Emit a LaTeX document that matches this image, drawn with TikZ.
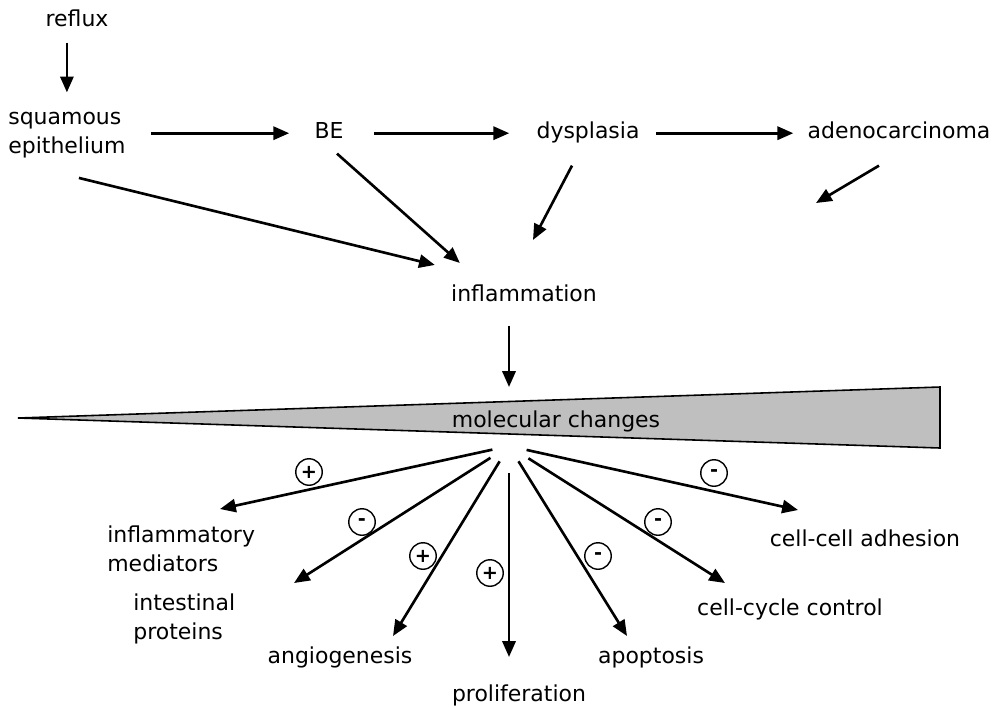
\documentclass[tikz,border=0pt]{standalone}
\usepackage{fontspec}
\setmainfont{DejaVu Sans}
\usetikzlibrary{arrows.meta, calc}

\begin{document}
\begin{tikzpicture}[x=0.02cm, y=-0.02cm, >={Triangle[length=9pt, width=7.5pt]},
        every node/.style={inner sep=0pt, font=\fontsize{12.5}{16.5}\selectfont},
        lbl/.style={text height=9.5pt, text depth=3pt, anchor=base},
        multi/.style={align=left, anchor=base west},
        arr/.style={->, line width=1.5pt},
        sign/.style={circle, draw, line width=0.8pt, minimum size=0.53cm, font=\fontsize{11}{11}\selectfont\bfseries}]

        \useasboundingbox (0,0) rectangle (999,707);

        % upper part
        \node[lbl] (reflux) at (77,26) {reflux};
        \node[multi] (squamous) at (8,153) {squamous\\epithelium};
        \node[lbl] (be) at (329,138) {BE};
        \node[lbl] (dysplasia) at (588,138) {dysplasia};
        \node[lbl] (adeno) at (899,138) {adenocarcinoma};
        \node[lbl] (infl) at (524,301) {inflammation};
        \coordinate (adenoend) at (816,203);

        \draw[arr, shorten <=0.22cm, shorten >=0.38cm] (reflux.south -| squamous.north) -- (squamous.north);
        \draw[arr, shorten <=0.5cm, shorten >=0.5cm] (squamous.east |- be.mid) -- (be.mid west);
        \draw[arr, shorten <=0.6cm, shorten >=0.54cm] (be.mid east) -- (dysplasia.mid west);
        \draw[arr, shorten <=0.32cm, shorten >=0.28cm] (dysplasia.mid east) -- (adeno.mid west);
        \draw[arr] ($(squamous.south)+(12,20)$) -- ($(infl.north west)+(-16,-19)$);
        \draw[arr] ($(be.south)+(8,10)$) -- ($(infl.north west)+(9,-21)$);
        \draw[arr] ($(dysplasia.south)+(-16,22)$) -- ($(infl.north)+(9,-44)$);
        \draw[arr] ($(adeno.south)+(-20,22)$) -- (adenoend);

        % wedge
        \draw[line width=0.9pt, fill=gray!50] (18,418) -- (940,387) -- (940,448) -- cycle;
        \node[lbl] (molec) at (556,427) {molecular changes};
        \coordinate (hub) at (509,446);
        \draw[arr, shorten <=0.38cm, shorten >=1.18cm] (infl.south -| hub) -- (hub);

        % lower part
        \node[multi] (mediators) at (107,571) {inflammatory\\mediators};
        \node[multi] (intestinal) at (133,639) {intestinal\\proteins};
        \node[lbl] (angio) at (340,663) {angiogenesis};
        \node[lbl] (prolif) at (519,701) {proliferation};
        \node[lbl] (apopt) at (651,663) {apoptosis};
        \node[lbl] (cycle) at (790,615) {cell-cycle control};
        \node[lbl] (adhesion) at (865,546) {cell-cell adhesion};

        \foreach \ex/\ey/\sh/\sx/\sy/\sg [count=\i] in
            {220/509/0.34cm/309/472/+, 294/583/0.44cm/362/522/-, 393/636/0.36cm/423/556/+,
             509/657/0.54cm/490/573/+, 627/636/0.36cm/598/556/-, 725/583/0.46cm/658/522/-,
             798/510/0.36cm/714/473/-}
        {
            \coordinate (tip\i) at (\ex,\ey);
            \draw[arr, shorten <=\sh] (hub) -- (tip\i);
            \node[sign] (sign\i) at (\sx,\sy) {\sg};
        }
\end{tikzpicture}
\end{document}
